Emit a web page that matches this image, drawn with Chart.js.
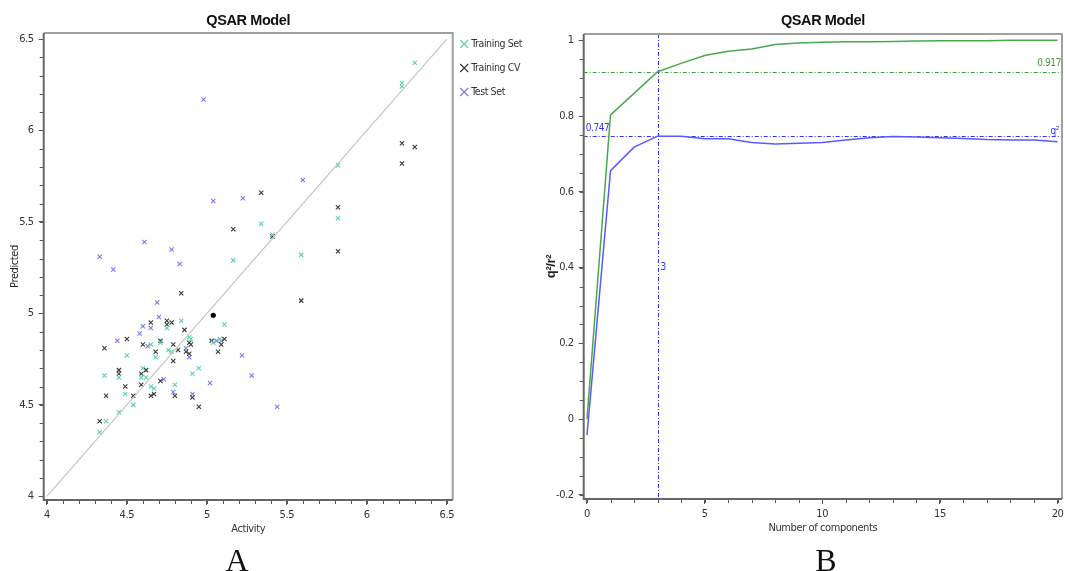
<!DOCTYPE html>
<html>
<head>
<meta charset="utf-8">
<script src="https://cdn.jsdelivr.net/npm/chart.js@4.4.1/dist/chart.umd.min.js"></script>
<style>
  html, body { margin:0; padding:0; background:#fff; width:1065px; height:571px; overflow:hidden; }
  #wa { position:absolute; left:0; top:0; width:540px; height:571px; }
  #wb { position:absolute; left:540px; top:0; width:532px; height:571px; }
  .tag { position:absolute; top:544px; font:32px/32px 'Liberation Serif','Times New Roman',serif; color:#111; transform:translateX(-50%); }
</style>
</head>
<body>
<div id="wa"><canvas id="ca"></canvas></div>
<div id="wb"><canvas id="cb"></canvas></div>
<div class="tag" style="left:237px">A</div>
<div class="tag" style="left:826px">B</div>
<script>
// Panel A: actividad observada vs. predicha
const actTicks  = [4, 4.5, 5, 5.5, 6, 6.5];
const predTicks = [4, 4.5, 5, 5.5, 6, 6.5];

const trainAct  = [6.30, 6.22, 6.22, 5.82, 5.82, 5.34, 5.41, 5.165, 5.59,
                   4.84, 4.75, 5.11, 4.89, 4.90, 4.65, 4.71, 4.76, 4.78, 4.68, 4.50, 4.60, 4.36, 4.45,
                   4.59, 4.62, 4.65, 4.67, 4.49, 4.54, 4.45, 4.37, 4.33, 4.80, 4.91, 4.95, 5.04, 5.08];
const trainPred = [6.37, 6.26, 6.24, 5.81, 5.52, 5.49, 5.43, 5.29, 5.32,
                   4.96, 4.92, 4.94, 4.87, 4.86, 4.83, 4.84, 4.80, 4.79, 4.76, 4.77, 4.70, 4.66, 4.65,
                   4.65, 4.65, 4.60, 4.59, 4.56, 4.50, 4.46, 4.41, 4.35, 4.61, 4.67, 4.70, 4.84, 4.86];

const cvAct  = [6.22, 6.30, 6.22, 5.34, 5.82, 5.82, 5.165, 5.41, 5.59,
                4.84, 4.65, 4.75, 4.78, 4.75, 4.86, 4.50, 4.36, 4.71, 4.60, 4.79, 4.68, 4.82, 4.89,
                4.90, 4.87, 4.89, 5.03, 5.09, 5.11, 5.07, 4.79, 4.45, 4.45, 4.59, 4.62, 4.49, 4.59,
                4.37, 4.54, 4.65, 4.67, 4.71, 4.80, 4.91, 4.95, 4.33];
const cvPred = [5.93, 5.91, 5.82, 5.66, 5.58, 5.34, 5.46, 5.42, 5.07,
                5.11, 4.95, 4.96, 4.95, 4.94, 4.91, 4.86, 4.81, 4.85, 4.83, 4.83, 4.79, 4.80, 4.84,
                4.83, 4.79, 4.78, 4.85, 4.83, 4.86, 4.79, 4.74, 4.69, 4.67, 4.67, 4.69, 4.60, 4.61,
                4.55, 4.55, 4.55, 4.56, 4.63, 4.55, 4.54, 4.49, 4.41];

const testAct  = [4.98, 4.33, 4.415, 4.61, 4.78, 4.83, 5.04, 5.225, 5.60,
                  4.69, 4.70, 4.60, 4.58, 4.65, 4.44, 4.63, 4.73, 4.79, 4.87, 4.89, 4.91, 5.02,
                  5.06, 5.09, 5.22, 5.28, 5.44];
const testPred = [6.17, 5.31, 5.24, 5.39, 5.35, 5.27, 5.615, 5.63, 5.73,
                  5.06, 4.98, 4.93, 4.89, 4.92, 4.85, 4.82, 4.64, 4.57, 4.81, 4.76, 4.56, 4.62,
                  4.85, 4.85, 4.77, 4.66, 4.49];

const selAct = [5.04], selPred = [4.99];
const diagLine = [4, 6.5];

// Panel B: q2 / r2 según número de componentes
const nComp  = [0, 1, 2, 3, 4, 5, 6, 7, 8, 9, 10, 11, 12, 13, 14, 15, 16, 17, 18, 19, 20];
const r2Vals = [0, 0.803, 0.860, 0.917, 0.939, 0.960, 0.971, 0.977, 0.989, 0.993, 0.995,
                0.996, 0.996, 0.997, 0.998, 0.999, 0.999, 0.999, 1.0, 1.0, 1.0];
const q2Vals = [-0.042, 0.656, 0.718, 0.747, 0.747, 0.740, 0.740, 0.730, 0.726, 0.728, 0.730,
                0.737, 0.743, 0.746, 0.745, 0.743, 0.741, 0.738, 0.737, 0.737, 0.732];
const compTicks = [0, 5, 10, 15, 20];
const qrTicks   = [-0.2, 0, 0.2, 0.4, 0.6, 0.8, 1];
const nSel = 3, r2Sel = 0.917, q2Sel = 0.747;

const narrow = "'Liberation Sans Narrow','DejaVu Sans Condensed','Liberation Sans',Arial,sans-serif";
const GREEN_PT = '#5fd4a8', CV_PT = '#3a3a3a', TEST_PT = '#7b7bec';
const R2_C = '#4aa84a', Q2_C = '#5a5aff', REF_G = '#3c9c3c', REF_B = '#3030ff';

function pts(xs, ys){ return xs.map((x, i) => ({ x, y: ys[i] })); }
function fixTicks(vals){ return s => { s.ticks = vals.map(v => ({ value: v })); }; }
const crisp = p => Math.round(p) + 0.5;

// texto algo más estrecho (la fuente original es condensada)
const tight = {
  id: 'tight',
  beforeDraw(chart){ if ('letterSpacing' in chart.ctx) chart.ctx.letterSpacing = '-0.4px'; }
};

// marco + ticks menores
const frame = {
  id: 'frame',
  afterDraw(chart, _a, o){
    const { ctx, chartArea: a, scales } = chart;
    ctx.save();
    ctx.strokeStyle = '#555'; ctx.lineWidth = 1;
    Object.keys(o.minor || {}).forEach(id => {
      const s = scales[id], step = o.minor[id];
      for (let i = Math.ceil(s.min / step - 1e-6); i <= Math.floor(s.max / step + 1e-6); i++){
        const p = crisp(s.getPixelForValue(i * step));
        ctx.beginPath();
        if (s.isHorizontal()) { ctx.moveTo(p, a.bottom); ctx.lineTo(p, a.bottom + 4); }
        else { ctx.moveTo(a.left, p); ctx.lineTo(a.left - 4, p); }
        ctx.stroke();
      }
    });
    ctx.lineWidth = 2;
    ctx.strokeStyle = '#a0a0a0';
    ctx.beginPath(); ctx.moveTo(a.left, a.top); ctx.lineTo(a.right, a.top); ctx.lineTo(a.right, a.bottom); ctx.stroke();
    ctx.strokeStyle = '#666';
    ctx.beginPath(); ctx.moveTo(a.left, a.top); ctx.lineTo(a.left, a.bottom); ctx.lineTo(a.right, a.bottom); ctx.stroke();
    ctx.restore();
  }
};

// leyenda con cruces a la derecha del panel A
const crossLegend = {
  id: 'crossLegend',
  afterDraw(chart){
    const { ctx, chartArea: a } = chart;
    ctx.save();
    ctx.font = '10.5px ' + narrow; ctx.textBaseline = 'middle'; ctx.fillStyle = '#333';
    chart.data.datasets.filter(d => d.inLegend).forEach((d, i) => {
      const cx = a.right + 11.5, cy = a.top + 11 + i * 24;
      ctx.strokeStyle = d.borderColor; ctx.lineWidth = 1.2;
      ctx.beginPath();
      ctx.moveTo(cx - 4, cy - 4); ctx.lineTo(cx + 4, cy + 4);
      ctx.moveTo(cx + 4, cy - 4); ctx.lineTo(cx - 4, cy + 4);
      ctx.stroke();
      ctx.fillText(d.label, a.right + 18.5, cy);
    });
    ctx.restore();
  }
};

// líneas de referencia del panel B
const refLines = {
  id: 'refLines',
  beforeDatasetsDraw(chart){
    const { ctx, chartArea: a, scales: { x, y } } = chart;
    const yr = crisp(y.getPixelForValue(r2Sel)), yq = crisp(y.getPixelForValue(q2Sel)), xn = crisp(x.getPixelForValue(nSel));
    const seg = (x1, y1, x2, y2) => { ctx.beginPath(); ctx.moveTo(x1, y1); ctx.lineTo(x2, y2); ctx.stroke(); };
    ctx.save();
    ctx.lineWidth = 1; ctx.setLineDash([4, 2, 1, 2]);
    ctx.strokeStyle = REF_G; seg(a.left, yr, a.right, yr);
    ctx.strokeStyle = REF_B; seg(a.left, yq, a.right, yq); seg(xn, a.top, xn, a.bottom);
    ctx.setLineDash([]);
    ctx.font = '10px ' + narrow; ctx.textBaseline = 'middle';
    ctx.textAlign = 'right';
    ctx.fillStyle = REF_G; ctx.fillText(r2Sel.toFixed(3), a.right - 1, yr - 9);
    ctx.fillStyle = REF_B; ctx.fillText('q\u00b2', a.right - 3, yq - 5);
    ctx.textAlign = 'left';
    ctx.fillText(q2Sel.toFixed(3), a.left + 2, yq - 8);
    ctx.fillText(String(nSel), xn + 2, y.getPixelForValue(0.4));
    ctx.restore();
  }
};

function axisX(min, max, ticks, title, tfont){
  return {
    type: 'linear', min, max,
    afterBuildTicks: fixTicks(ticks),
    afterFit: s => { s.height = 40; },
    grid: { drawOnChartArea: false, tickLength: 5, tickColor: '#555' },
    border: { display: false },
    ticks: { padding: 4, color: '#333', font: { family: narrow, size: 11 }, callback: v => String(v) },
    title: { display: true, text: title, color: '#333', font: tfont, padding: { top: 0, bottom: 4.4 } }
  };
}
function axisY(min, max, ticks, title, tfont, pt){
  return {
    type: 'linear', min, max,
    afterBuildTicks: fixTicks(ticks),
    afterFit: s => { s.width = 43.7; },
    grid: { drawOnChartArea: false, tickLength: 5, tickColor: '#555' },
    border: { display: false },
    ticks: { padding: 5, color: '#333', font: { family: narrow, size: 11 }, callback: v => String(v) },
    title: { display: true, text: title, color: '#222', font: tfont, padding: { top: pt, bottom: 0 } }
  };
}
const titleOpt = bottom => ({
  display: true, text: 'QSAR Model', fullSize: false, color: '#111',
  font: { family: "'Liberation Sans',Arial,sans-serif", size: 14.5, weight: 'bold' },
  padding: { top: 12.3, bottom: bottom }
});

new Chart(document.getElementById('ca'), {
  type: 'scatter',
  data: { datasets: [
    { label: 'diag', type: 'scatter', showLine: true, data: pts(diagLine, diagLine), borderColor: '#c4c4c4', borderWidth: 1.2, pointRadius: 0 },
    { label: 'Training Set', inLegend: true, data: pts(trainAct, trainPred), pointStyle: 'crossRot', pointRadius: 3, borderWidth: 1.1, borderColor: GREEN_PT, backgroundColor: GREEN_PT },
    { label: 'Training CV', inLegend: true, data: pts(cvAct, cvPred), pointStyle: 'crossRot', pointRadius: 3, borderWidth: 1.1, borderColor: CV_PT, backgroundColor: CV_PT },
    { label: 'Test Set', inLegend: true, data: pts(testAct, testPred), pointStyle: 'crossRot', pointRadius: 3, borderWidth: 1.1, borderColor: TEST_PT, backgroundColor: TEST_PT },
    { label: 'sel', data: pts(selAct, selPred), pointStyle: 'circle', pointRadius: 2.6, borderWidth: 0, backgroundColor: '#000' }
  ]},
  options: {
    responsive: true, maintainAspectRatio: false, animation: false,
    layout: { padding: { left: 0, right: 87.3, top: 0, bottom: 31 } },
    scales: {
      x: axisX(3.98, 6.537, actTicks, 'Activity', { family: narrow, size: 11 }),
      y: axisY(3.98, 6.533, predTicks, 'Predicted', { family: narrow, size: 11 }, 8.4)
    },
    plugins: {
      legend: { display: false }, tooltip: { enabled: false },
      title: titleOpt(3.3),
      frame: { minor: { x: 0.1, y: 0.1 } }
    }
  },
  plugins: [tight, frame, crossLegend]
});

new Chart(document.getElementById('cb'), {
  type: 'line',
  data: { datasets: [
    { label: 'r2', data: pts(nComp, r2Vals), borderColor: R2_C, borderWidth: 1.5, pointRadius: 0, tension: 0 },
    { label: 'q2', data: pts(nComp, q2Vals), borderColor: Q2_C, borderWidth: 1.5, pointRadius: 0, tension: 0 }
  ]},
  options: {
    responsive: true, maintainAspectRatio: false, animation: false,
    layout: { padding: { left: 0, right: 10, top: 0, bottom: 32 } },
    scales: {
      x: axisX(-0.14, 20.19, compTicks, 'Number of components', { family: narrow, size: 11 }),
      y: axisY(-0.2106, 1.0166, qrTicks, 'q\u00b2/r\u00b2', { family: "'Liberation Sans',Arial,sans-serif", size: 13, weight: 'bold' }, 3.9)
    },
    plugins: {
      legend: { display: false }, tooltip: { enabled: false },
      title: titleOpt(4.3),
      frame: { minor: { x: 1, y: 0.05 } }
    }
  },
  plugins: [tight, frame, refLines]
});
</script>
</body>
</html>
